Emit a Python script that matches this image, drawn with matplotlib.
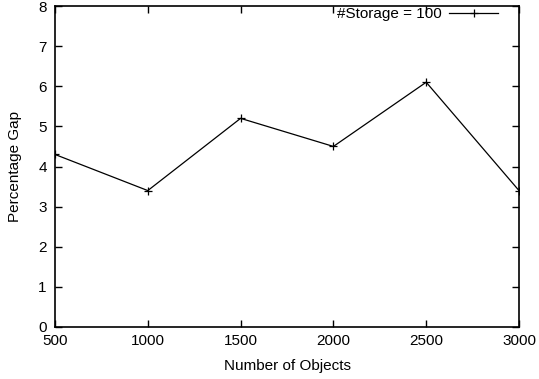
import matplotlib
matplotlib.use('Agg')
import matplotlib.pyplot as plt

plt.rcParams['font.family'] = ['Liberation Sans', 'DejaVu Sans']

objects = [500, 1000, 1500, 2000, 2500, 3000]
gap = [4.3, 3.4, 5.2, 4.5, 6.1, 3.4]

fig = plt.figure(figsize=(5.39, 3.79), dpi=100)
ax = fig.add_axes([55 / 539, 1 - 327 / 379, (519 - 55) / 539, (327 - 6) / 379])

ax.plot(objects, gap, color='black', linewidth=0.9, marker='+', markersize=6,
        markeredgewidth=0.9, label='#Storage = 100')

ax.set_xlim(500, 3000)
ax.set_ylim(0, 8)
ax.set_xticks(objects)
ax.set_yticks(range(0, 9))
ax.tick_params(direction='in', length=5, width=1, top=True, right=True, labelsize=11)
ax.tick_params(axis='y', pad=6)
ax.tick_params(axis='x', pad=5)
for s in ax.spines.values():
    s.set_linewidth(1.2)

ax.set_xlabel('Number of Objects', fontsize=11, labelpad=8)
ax.set_ylabel('Percentage Gap', fontsize=11, labelpad=12)

leg = ax.legend(loc='upper right', frameon=False, fontsize=11, markerfirst=False,
                handlelength=3.2, borderaxespad=0, borderpad=0,
                handletextpad=0.5, bbox_to_anchor=(1 - 21 / 464, 1 - 1 / 321))

fig.savefig('out.png', dpi=100)
